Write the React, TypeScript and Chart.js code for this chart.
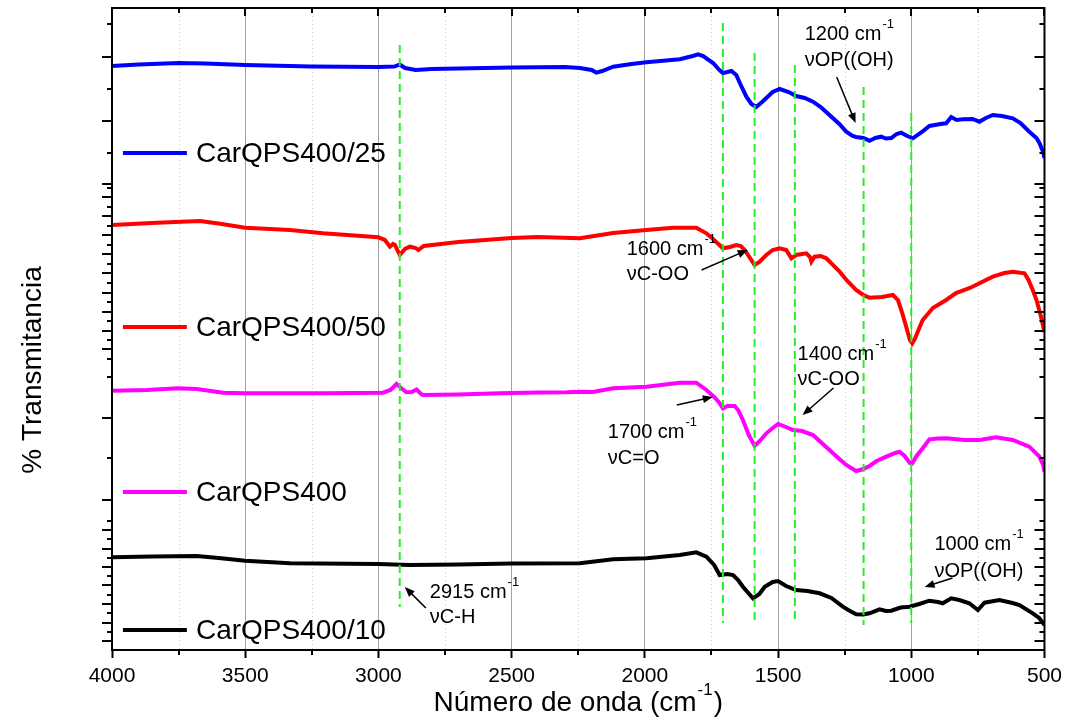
import React, { useEffect, useRef } from 'react';
import { Chart, registerables } from 'chart.js';

Chart.register(...registerables);

const FONT = '"Liberation Sans", Arial, Helvetica, sans-serif';

// ---- axis ticks ----
const xTickLabels = [4000, 3500, 3000, 2500, 2000, 1500, 1000, 500];
const xMinorTicks = [3750, 3250, 2750, 2250, 1750, 1250, 750];
const yMajorTicks = [59.33, 52.87, 46.6, 45.27, 43.4, 41.5, 39.6, 37.67, 35.73, 33.83, 31.93, 30.07, 23.2, 15.0, 12.0, 10.13, 8.33, 6.47, 4.6, 2.73, 0.93];
const yMinorTicks = [62.57, 56.1, 49.7, 46.17, 44.33, 42.43, 40.5, 38.6, 36.67, 34.77, 32.9, 31.0, 29.1, 27.27, 19.17, 12.93, 11.07, 9.2, 7.4, 5.53, 3.67, 1.83];

// ---- series ----
const seriesLabels = ['CarQPS400/25', 'CarQPS400/50', 'CarQPS400', 'CarQPS400/10'];
const seriesColors = ['#0000ff', '#ff0000', '#ff00ff', '#000000'];

const blueWn = [4000, 3900, 3750, 3650, 3500, 3250, 3000, 2940, 2920, 2900, 2860, 2800, 2700, 2500, 2300, 2244, 2200, 2182, 2160, 2119, 2050, 1994, 1900, 1869, 1820, 1800, 1781, 1744, 1720, 1707, 1690, 1675, 1657, 1640, 1619, 1600, 1582, 1560, 1544, 1520, 1494, 1460, 1432, 1400, 1369, 1340, 1307, 1270, 1244, 1220, 1207, 1180, 1157, 1135, 1113, 1095, 1075, 1055, 1038, 1015, 994, 960, 932, 890, 869, 850, 830, 807, 770, 744, 720, 694, 660, 619, 590, 557, 530, 519, 505, 500];
const blueT = [58.4, 58.55, 58.7, 58.65, 58.5, 58.35, 58.3, 58.35, 58.55, 58.2, 58.0, 58.1, 58.15, 58.25, 58.3, 58.2, 58.0, 57.74, 57.9, 58.33, 58.6, 58.77, 59.0, 59.07, 59.4, 59.57, 59.4, 58.7, 58.0, 57.7, 57.8, 57.9, 57.5, 56.5, 55.33, 54.6, 54.3, 54.8, 55.2, 55.8, 56.1, 55.8, 55.4, 55.2, 54.83, 54.3, 53.5, 52.6, 51.83, 51.4, 51.3, 51.2, 50.93, 51.2, 51.33, 51.15, 51.2, 51.6, 51.73, 51.4, 51.17, 51.8, 52.4, 52.6, 52.67, 53.3, 53.0, 53.07, 53.1, 52.83, 53.2, 53.5, 53.4, 53.17, 52.7, 51.83, 51.2, 50.7, 49.8, 49.2];

const redWn = [4000, 3832, 3670, 3600, 3500, 3332, 3208, 3000, 2976, 2957, 2945, 2938, 2920, 2900, 2882, 2860, 2850, 2830, 2700, 2500, 2400, 2244, 2119, 1994, 1894, 1807, 1769, 1740, 1707, 1680, 1657, 1640, 1625, 1588, 1570, 1544, 1520, 1494, 1469, 1450, 1432, 1410, 1394, 1380, 1375, 1363, 1340, 1319, 1269, 1240, 1207, 1180, 1157, 1110, 1069, 1050, 1035, 1019, 1005, 996, 985, 970, 957, 919, 894, 869, 832, 780, 744, 694, 650, 619, 575, 560, 544, 530, 513, 500];
const redT = [42.5, 42.73, 42.9, 42.65, 42.23, 42.0, 41.67, 41.27, 41.0, 40.33, 40.6, 40.5, 39.5, 40.1, 40.33, 40.2, 40.0, 40.4, 40.8, 41.2, 41.3, 41.17, 41.7, 42.0, 42.23, 42.23, 41.67, 41.0, 40.17, 40.3, 40.5, 40.4, 40.0, 38.5, 38.8, 39.5, 40.0, 40.17, 40.0, 39.17, 39.5, 39.6, 39.67, 39.3, 38.83, 39.33, 39.4, 39.17, 37.83, 36.9, 36.0, 35.5, 35.23, 35.3, 35.5, 35.0, 33.8, 32.33, 31.0, 30.67, 31.2, 32.2, 33.0, 34.2, 34.6, 35.0, 35.7, 36.2, 36.67, 37.33, 37.7, 37.83, 37.67, 37.0, 36.0, 35.0, 33.33, 31.8];

const magWn = [4000, 3870, 3752, 3682, 3583, 3500, 3208, 2983, 2955, 2932, 2915, 2895, 2875, 2857, 2840, 2833, 2700, 2545, 2400, 2294, 2244, 2195, 2119, 1994, 1869, 1807, 1769, 1738, 1720, 1707, 1690, 1663, 1650, 1632, 1610, 1588, 1565, 1544, 1520, 1500, 1470, 1444, 1410, 1369, 1340, 1307, 1270, 1244, 1207, 1180, 1157, 1130, 1094, 1060, 1044, 1025, 1005, 996, 980, 957, 932, 900, 869, 800, 744, 682, 619, 557, 519, 505, 500];
const magT = [25.93, 26.0, 26.17, 26.1, 25.73, 25.67, 25.67, 25.73, 26.0, 26.6, 26.2, 25.77, 25.8, 26.05, 25.6, 25.5, 25.55, 25.67, 25.75, 25.77, 25.83, 25.8, 26.17, 26.33, 26.73, 26.73, 26.0, 25.27, 24.7, 24.17, 24.4, 24.4, 24.0, 23.0, 21.5, 20.4, 21.0, 21.67, 22.2, 22.6, 22.3, 22.0, 21.9, 21.5, 20.8, 20.0, 19.1, 18.5, 17.9, 18.1, 18.4, 18.9, 19.33, 19.7, 19.83, 19.4, 18.7, 18.67, 19.4, 20.17, 21.07, 21.15, 21.17, 21.0, 21.0, 21.27, 21.0, 20.33, 19.33, 18.5, 17.83];

const blackWn = [4000, 3850, 3682, 3600, 3500, 3332, 3002, 2882, 2700, 2500, 2244, 2119, 1994, 1869, 1807, 1769, 1740, 1719, 1690, 1669, 1650, 1632, 1594, 1570, 1550, 1520, 1500, 1470, 1432, 1390, 1344, 1300, 1257, 1230, 1207, 1180, 1157, 1119, 1095, 1075, 1040, 1007, 970, 932, 900, 882, 850, 820, 782, 750, 725, 669, 620, 594, 544, 520, 500];
const blackT = [9.27, 9.35, 9.4, 9.2, 8.93, 8.67, 8.6, 8.5, 8.55, 8.65, 8.67, 9.07, 9.17, 9.5, 9.77, 9.33, 8.5, 7.5, 7.6, 7.5, 7.0, 6.33, 5.17, 5.6, 6.33, 6.8, 6.9, 6.4, 6.0, 5.9, 5.67, 5.2, 4.33, 3.9, 3.57, 3.55, 3.67, 4.07, 3.9, 3.93, 4.25, 4.33, 4.6, 4.93, 4.8, 4.67, 5.17, 5.0, 4.67, 4.0, 4.73, 5.0, 4.7, 4.5, 3.67, 3.2, 2.5];

// ---- green dashed reference lines ----
const markerWn = [2920, 1707, 1588, 1437, 1179, 1000];
const markerTop = [60.5, 62.7, 59.7, 58.5, 56.3, 53.7];
const markerBottom = [4.3, 2.7, 2.5, 2.8, 2.5, 2.7];

// ---- annotations ----
const annHeads = ['1200 cm', '1600 cm', '1400 cm', '1700 cm', '1000 cm', '2915 cm'];
const annSubs = ['\u03bdOP((OH)', '\u03bdC-OO', '\u03bdC-OO', '\u03bdC=O', '\u03bdOP((OH)', '\u03bdC-H'];
const annTextWn = [1400, 2068, 1427, 2139, 913, 2807];
const annHeadY = [61.0, 39.5, 29.0, 21.2, 10.0, 5.2];
const annSubY = [58.4, 37.0, 26.5, 18.6, 7.3, 2.7];
const annArrowFrom = [[1280, 57.3], [1787, 38.0], [1292, 26.2], [1880, 24.5], [845, 7.2], [2822, 4.2]];
const annArrowTo = [[1209, 52.7], [1614, 40.0], [1408, 23.5], [1745, 25.3], [950, 6.3], [2901, 6.3]];

// legend placement (in data units)
const legendLineWn = [3959, 3719];
const legendTextWn = 3685;
const legendY = [49.7, 32.3, 15.8, 2.0];

const decor = {
  id: 'decor',
  beforeDatasetsDraw(chart: any) {
    const { ctx, chartArea: a, scales } = chart;
    const x = scales.x;
    ctx.save();
    ctx.strokeStyle = '#cfcfcf';
    ctx.lineWidth = 1;
    ctx.setLineDash([1, 3]);
    xMinorTicks.forEach((v) => {
      const px = Math.round(x.getPixelForValue(v)) + 0.5;
      ctx.beginPath();
      ctx.moveTo(px, a.top);
      ctx.lineTo(px, a.bottom);
      ctx.stroke();
    });
    ctx.restore();
  },
  afterDatasetsDraw(chart: any) {
    const { ctx, chartArea: a, scales } = chart;
    const x = scales.x;
    const y = scales.y;
    ctx.save();
    ctx.setLineDash([]);
    // frame
    ctx.strokeStyle = '#000';
    ctx.lineWidth = 2;
    ctx.strokeRect(a.left, a.top, a.right - a.left, a.bottom - a.top);
    // x ticks: bottom outward minor, top inward
    ctx.lineWidth = 2;
    xMinorTicks.forEach((v) => {
      const px = Math.round(x.getPixelForValue(v));
      ctx.beginPath();
      ctx.moveTo(px, a.bottom);
      ctx.lineTo(px, a.bottom + 5);
      ctx.moveTo(px, a.top);
      ctx.lineTo(px, a.top + 5);
      ctx.stroke();
    });
    xTickLabels.forEach((v) => {
      const px = Math.round(x.getPixelForValue(v));
      ctx.beginPath();
      ctx.moveTo(px, a.top);
      ctx.lineTo(px, a.top + 8);
      ctx.stroke();
    });
    // y ticks: left outward, right inward
    yMajorTicks.forEach((v) => {
      const py = Math.round(y.getPixelForValue(v));
      ctx.beginPath();
      ctx.moveTo(a.left - 10, py);
      ctx.lineTo(a.left, py);
      ctx.moveTo(a.right - 10, py);
      ctx.lineTo(a.right, py);
      ctx.stroke();
    });
    yMinorTicks.forEach((v) => {
      const py = Math.round(y.getPixelForValue(v));
      ctx.beginPath();
      ctx.moveTo(a.left - 5, py);
      ctx.lineTo(a.left, py);
      ctx.moveTo(a.right - 5, py);
      ctx.lineTo(a.right, py);
      ctx.stroke();
    });

    // legend entries
    const spectra = chart.data.datasets.filter((d: any) => d.isSpectrum);
    spectra.forEach((d: any, i: number) => {
      const py = y.getPixelForValue(legendY[i]);
      ctx.strokeStyle = d.borderColor;
      ctx.lineWidth = 4;
      ctx.beginPath();
      ctx.moveTo(x.getPixelForValue(legendLineWn[0]), py);
      ctx.lineTo(x.getPixelForValue(legendLineWn[1]), py);
      ctx.stroke();
      ctx.fillStyle = '#000';
      ctx.font = `28px ${FONT}`;
      ctx.textAlign = 'left';
      ctx.textBaseline = 'middle';
      ctx.fillText(d.label, x.getPixelForValue(legendTextWn), py + 1);
    });

    // annotations
    ctx.fillStyle = '#000';
    ctx.strokeStyle = '#000';
    ctx.textBaseline = 'alphabetic';
    ctx.textAlign = 'left';
    annHeads.forEach((h, i) => {
      const tx = x.getPixelForValue(annTextWn[i]);
      const ty1 = y.getPixelForValue(annHeadY[i]);
      const ty2 = y.getPixelForValue(annSubY[i]);
      ctx.font = `20px ${FONT}`;
      ctx.fillText(h, tx, ty1);
      const w = ctx.measureText(h).width;
      ctx.font = `13px ${FONT}`;
      ctx.fillText('-1', tx + w + 1, ty1 - 12);
      ctx.font = `20px ${FONT}`;
      ctx.fillText(annSubs[i], tx, ty2);
      // arrow
      const x1 = x.getPixelForValue(annArrowFrom[i][0]);
      const y1 = y.getPixelForValue(annArrowFrom[i][1]);
      const x2 = x.getPixelForValue(annArrowTo[i][0]);
      const y2 = y.getPixelForValue(annArrowTo[i][1]);
      const ang = Math.atan2(y2 - y1, x2 - x1);
      const L = 10;
      const W = 4;
      ctx.lineWidth = 1.5;
      ctx.beginPath();
      ctx.moveTo(x1, y1);
      ctx.lineTo(x2 - Math.cos(ang) * L * 0.8, y2 - Math.sin(ang) * L * 0.8);
      ctx.stroke();
      ctx.beginPath();
      ctx.moveTo(x2, y2);
      ctx.lineTo(x2 - Math.cos(ang) * L - Math.sin(ang) * W, y2 - Math.sin(ang) * L + Math.cos(ang) * W);
      ctx.lineTo(x2 - Math.cos(ang) * L + Math.sin(ang) * W, y2 - Math.sin(ang) * L - Math.cos(ang) * W);
      ctx.closePath();
      ctx.fill();
    });

    // axis titles
    ctx.font = `28px ${FONT}`;
    const t1 = 'N\u00famero de onda (cm';
    const t2 = '-1';
    const t3 = ')';
    const w1 = ctx.measureText(t1).width;
    const w3 = ctx.measureText(t3).width;
    ctx.font = `17px ${FONT}`;
    const w2 = ctx.measureText(t2).width;
    const cx = (a.left + a.right) / 2;
    const base = a.bottom + 61;
    let sx = cx - (w1 + w2 + w3 + 2) / 2;
    ctx.font = `28px ${FONT}`;
    ctx.fillText(t1, sx, base);
    sx += w1 + 1;
    ctx.font = `17px ${FONT}`;
    ctx.fillText(t2, sx, base - 16);
    sx += w2 + 1;
    ctx.font = `28px ${FONT}`;
    ctx.fillText(t3, sx, base);

    ctx.save();
    ctx.translate(a.left - 79, y.getPixelForValue(28.0));
    ctx.rotate(-Math.PI / 2);
    ctx.textAlign = 'center';
    ctx.textBaseline = 'middle';
    ctx.font = `28px ${FONT}`;
    ctx.fillText('% Transmitancia', 0, 0);
    ctx.restore();

    ctx.restore();
  },
};

export default function App() {
  const ref = useRef<HTMLCanvasElement>(null);
  useEffect(() => {
    document.body.style.margin = '0';
    const canvas = ref.current;
    if (!canvas) return;
    const pts = (wn: number[], t: number[]) => wn.map((v, i) => ({ x: v, y: t[i] }));
    const spectra = [
      pts(blueWn, blueT),
      pts(redWn, redT),
      pts(magWn, magT),
      pts(blackWn, blackT),
    ];
    const datasets: any[] = [];
    markerWn.forEach((w, i) => {
      datasets.push({
        label: 'marker' + i,
        data: [{ x: w, y: markerTop[i] }, { x: w, y: markerBottom[i] }],
        borderColor: '#22f022',
        borderWidth: 2,
        borderDash: [8, 5],
        pointRadius: 0,
        order: 0,
      });
    });
    spectra.forEach((d, i) => {
      datasets.push({
        label: seriesLabels[i],
        isSpectrum: true,
        data: d,
        borderColor: seriesColors[i],
        borderWidth: 4,
        pointRadius: 0,
        tension: 0,
        order: 1,
      });
    });
    const chart = new Chart(canvas, {
      type: 'line',
      data: { datasets },
      options: {
        responsive: false,
        animation: false,
        layout: { padding: { top: 8, right: 23, left: 0, bottom: 0 } },
        plugins: { legend: { display: false }, tooltip: { enabled: false } },
        scales: {
          x: {
            type: 'linear',
            reverse: true,
            min: 500,
            max: 4000,
            afterBuildTicks: (s: any) => {
              s.ticks = xTickLabels.map((v) => ({ value: v }));
            },
            afterFit: (s: any) => {
              s.height = 67;
            },
            ticks: {
              font: { family: FONT, size: 21 },
              color: '#000',
              padding: 6,
              maxRotation: 0,
              autoSkip: false,
              callback: (v: any) => String(v),
            },
            grid: {
              color: (c: any) =>
                c.tick && (c.tick.value === 4000 || c.tick.value === 500) ? 'rgba(0,0,0,0)' : '#a0a0a0',
              lineWidth: 1,
              tickColor: '#000',
              tickLength: 8,
              tickWidth: 2,
            },
            border: { color: '#000', width: 2 },
          },
          y: {
            type: 'linear',
            min: 0,
            max: 64.2,
            afterFit: (s: any) => {
              s.width = 112;
            },
            ticks: { display: false },
            grid: { display: false },
            border: { color: '#000', width: 2 },
          },
        },
      },
      plugins: [decor],
    } as any);
    return () => chart.destroy();
  }, []);
  return (
    <div style={{ position: 'fixed', left: 0, top: 0, width: 1068, height: 717, background: '#fff' }}>
      <canvas ref={ref} width={1068} height={717} style={{ display: 'block', width: 1068, height: 717 }} />
    </div>
  );
}
